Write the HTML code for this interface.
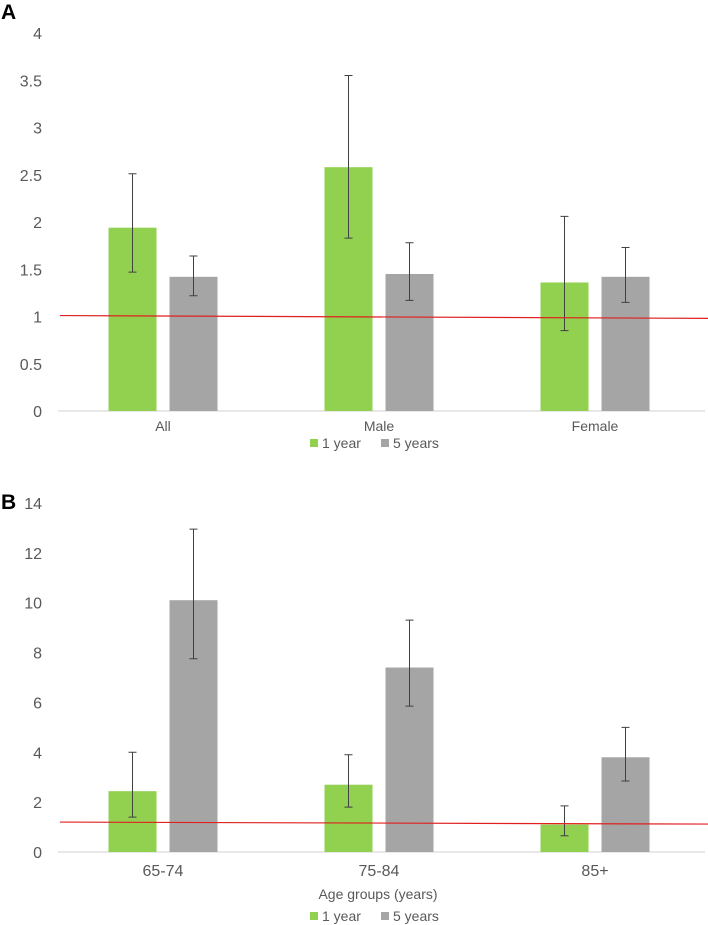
<!DOCTYPE html>
<html><head><meta charset="utf-8"><style>
body{margin:0;background:#fff;}
svg{display:block;font-family:"Liberation Sans",Arial,sans-serif;}
</style></head><body>
<svg id="c" width="708" height="925"></svg>
<script>
const catsA=["All","Male","Female"];
const oneYearA=[1.94,2.58,1.36];
const oneYearLoA=[1.47,1.83,0.85];
const oneYearHiA=[2.51,3.55,2.06];
const fiveYearA=[1.42,1.45,1.42];
const fiveYearLoA=[1.22,1.17,1.15];
const fiveYearHiA=[1.64,1.78,1.73];
const ticksA=[0,0.5,1,1.5,2,2.5,3,3.5,4];
const refA=[1.01,0.98];

const catsB=["65-74","75-84","85+"];
const oneYearB=[2.44,2.7,1.1];
const oneYearLoB=[1.4,1.8,0.65];
const oneYearHiB=[4.0,3.9,1.85];
const fiveYearB=[10.1,7.4,3.8];
const fiveYearLoB=[7.75,5.85,2.85];
const fiveYearHiB=[12.95,9.3,5.0];
const ticksB=[0,2,4,6,8,10,12,14];
const refB=[1.2,1.12];

const NS="http://www.w3.org/2000/svg";
const svg=document.getElementById('c');
function mk(tag,attrs,parent){const e=document.createElementNS(NS,tag);for(const k in attrs)e.setAttribute(k,attrs[k]);(parent||svg).appendChild(e);return e;}

function panel(p){
  const g=mk('g',{});
  
  
  const y=v=>p.y0-(v/p.max)*(p.y0-p.yTop);
  const xL=55,xR=703,cw=(xR-xL)/3;
  const cx=i=>xL+cw*(i+0.5);
  p.ticks.forEach(t=>{
    const tx=mk('text',{x:42,y:y(t)+6,'text-anchor':'end','font-size':16,fill:'#595959'},g);
    tx.textContent=t;
    
    
  });
  const ax=mk('line',{x1:58,x2:705,y1:p.y0,y2:p.y0,stroke:'#d0d0d0','stroke-width':1},g);
  
  
  const bw=48;
  p.cats.forEach((c,i)=>{
    [[p.s1,p.lo1,p.hi1,'#92d050',-1],[p.s2,p.lo2,p.hi2,'#a5a5a5',1]].forEach(([s,lo,hi,col,side])=>{
      const x0=side<0?cx(i)-bw-6.5:cx(i)+6.5;
      const r=mk('rect',{x:x0,y:y(s[i]),width:bw,height:p.y0-y(s[i]),fill:col},g);
      
      
      const mx=x0+bw/2;
      const eb=mk('path',{d:`M${mx},${y(lo[i])}V${y(hi[i])}M${mx-4},${y(lo[i])}H${mx+4}M${mx-4},${y(hi[i])}H${mx+4}`,stroke:'#404040','stroke-width':1,fill:'none'},g);
      
      
    });
    const t=mk('text',{x:cx(i),y:p.y0+p.labOff,'text-anchor':'middle','font-size':p.labSize,fill:'#595959'},g);
    t.textContent=c;
    
    
  });
  const rl=mk('line',{x1:60,x2:708,y1:y(p.ref[0]),y2:y(p.ref[1]),stroke:'#e02020','stroke-width':1.2},g);
  
  
  if(p.xtitle){
    const t=mk('text',{x:378,y:p.xtitleY,'text-anchor':'middle','font-size':14,fill:'#595959'},g);
    t.textContent=p.xtitle;
    
    
  }
  [['#92d050','1 year',310],['#a5a5a5','5 years',381]].forEach(([col,lab,x])=>{
    const s=mk('rect',{x:x,y:p.legY-9,width:8,height:8,fill:col},g);
    
    
    const t=mk('text',{x:x+12,y:p.legY,'font-size':14,fill:'#595959'},g);
    t.textContent=lab;
    
    
  });
  const L=mk('text',{x:1,y:p.letterY,'font-size':21,'font-weight':'bold',fill:'#000'},g);
  L.textContent=p.letter;
  
  
}
panel({name:'panel-a',cats:catsA,s1:oneYearA,lo1:oneYearLoA,hi1:oneYearHiA,s2:fiveYearA,lo2:fiveYearLoA,hi2:fiveYearHiA,ticks:ticksA,max:4,y0:411,yTop:33,ref:refA,labOff:20,labSize:14,legY:448,letter:'A',letterY:19});
panel({name:'panel-b',cats:catsB,s1:oneYearB,lo1:oneYearLoB,hi1:oneYearHiB,s2:fiveYearB,lo2:fiveYearLoB,hi2:fiveYearHiB,ticks:ticksB,max:14,y0:852,yTop:503,ref:refB,labOff:24,labSize:16,xtitle:'Age groups (years)',xtitleY:899,legY:921,letter:'B',letterY:509});
</script>
</body></html>
